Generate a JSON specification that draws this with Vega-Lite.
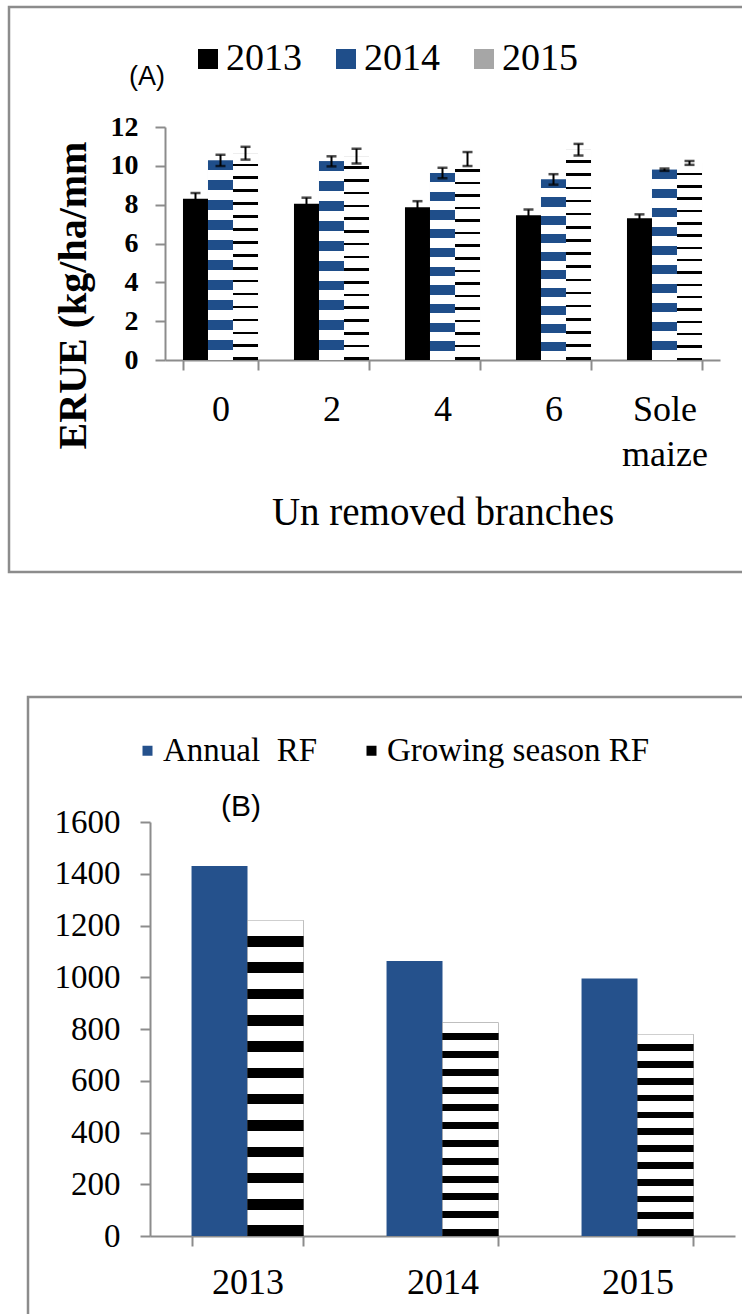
{
  "$schema": "https://vega.github.io/schema/vega-lite/v6.json",
  "padding": {"left": 7, "top": 5, "right": 0, "bottom": 0},
  "background": "white",
  "spacing": 121,
  "resolve": {"scale": {"color": "independent", "xOffset": "independent", "x": "independent", "y": "independent"}, "legend": {"color": "independent"}},
  "config": {
    "view": {"stroke": "#8c8c8c", "strokeWidth": 2.5, "fill": "white"},
    "font": "Liberation Serif",
    "axis": {"domainColor": "#8c8c8c", "domainWidth": 2, "tickColor": "#8c8c8c", "tickWidth": 2, "tickSize": 10, "labelColor": "black", "titleColor": "black", "grid": false, "labelFont": "Liberation Serif", "titleFont": "Liberation Serif"},
    "legend": {"labelColor": "black", "labelFont": "Liberation Serif"},
    "title": {"color": "black", "fontWeight": "normal"}
  },
  "vconcat": [
    {
      "width": 736,
      "height": 565,
      "title": {"text": "(A)", "font": "Liberation Sans", "fontSize": 27, "fontWeight": "normal", "anchor": "start", "frame": "group", "align": "center", "baseline": "middle", "offset": 0, "dx": 138, "dy": 97},
      "data": {"values": [
        {"branches": "0", "year": "2013", "erue": 8.3, "lo": 8.0, "hi": 8.6},
        {"branches": "0", "year": "2014", "erue": 10.28, "lo": 9.99, "hi": 10.57},
        {"branches": "0", "year": "2015", "erue": 10.65, "lo": 10.32, "hi": 10.98},
        {"branches": "2", "year": "2013", "erue": 8.05, "lo": 7.74, "hi": 8.36},
        {"branches": "2", "year": "2014", "erue": 10.23, "lo": 9.97, "hi": 10.49},
        {"branches": "2", "year": "2015", "erue": 10.5, "lo": 10.12, "hi": 10.88},
        {"branches": "4", "year": "2013", "erue": 7.87, "lo": 7.56, "hi": 8.18},
        {"branches": "4", "year": "2014", "erue": 9.63, "lo": 9.36, "hi": 9.9},
        {"branches": "4", "year": "2015", "erue": 10.35, "lo": 9.99, "hi": 10.71},
        {"branches": "6", "year": "2013", "erue": 7.45, "lo": 7.15, "hi": 7.75},
        {"branches": "6", "year": "2014", "erue": 9.3, "lo": 9.03, "hi": 9.57},
        {"branches": "6", "year": "2015", "erue": 10.83, "lo": 10.53, "hi": 11.13},
        {"branches": "Sole maize", "year": "2013", "erue": 7.3, "lo": 7.1, "hi": 7.5},
        {"branches": "Sole maize", "year": "2014", "erue": 9.8, "lo": 9.74, "hi": 9.86},
        {"branches": "Sole maize", "year": "2015", "erue": 10.15, "lo": 10.05, "hi": 10.25}
      ]},
      "encoding": {
        "x": {"field": "branches", "type": "nominal", "sort": ["0", "2", "4", "6", "Sole maize"],
          "scale": {"range": [156, 711], "paddingInner": 0.324, "paddingOuter": 0.162},
          "axis": {"offset": -212, "tickBand": "extent", "labelAngle": 0, "labelFont": "Liberation Serif", "labelFontSize": 36, "labelPadding": 22, "labelLineHeight": 45,
            "labelExpr": "datum.value == 'Sole maize' ? ['Sole', 'maize'] : datum.label",
            "title": "Un removed branches", "titleFont": "Liberation Serif", "titleFontSize": 39, "titleFontWeight": "normal", "titleY": 164, "titleBaseline": "alphabetic"}},
        "xOffset": {"field": "year", "type": "nominal", "scale": {"domain": ["2013", "2014", "2015"], "paddingInner": 0, "paddingOuter": 0}}
      },
      "layer": [
        {
          "mark": {"type": "bar"},
          "encoding": {
            "y": {"field": "erue", "type": "quantitative", "title": "ERUE (kg/ha/mm",
              "scale": {"domain": [0, 12], "range": [353, 120], "nice": false},
              "axis": {"offset": -156, "values": [0, 2, 4, 6, 8, 10, 12], "labelFont": "Liberation Serif", "labelFontSize": 28, "labelFontWeight": "bold", "labelPadding": 17,
                "titleFont": "Liberation Serif", "titleFontSize": 40, "titleFontWeight": "bold", "titleAngle": 270, "titleX": -92, "titleY": 288, "titleAlign": "center", "titleBaseline": "middle"}},
            "color": {"field": "year", "type": "nominal",
              "scale": {"domain": ["2013", "2014", "2015"], "range": ["#000000", "#1F4E8A", "#a6a6a6"]},
              "legend": {"orient": "none", "legendX": 180, "legendY": 33, "direction": "horizontal", "title": null, "symbolType": "square", "symbolSize": 400, "symbolStrokeWidth": 0, "labelFont": "Liberation Serif", "labelFontSize": 38, "labelOffset": -1, "columnPadding": 25, "padding": 0, "labelLimit": 400}}
          }
        },
        {
          "transform": [{"filter": "datum.year == '2014'"}],
          "mark": {"type": "bar", "fill": {"gradient": "linear", "x1": 0, "y1": 0, "x2": 0, "y2": 1, "stops": [
            {"offset": 0, "color": "#1F4E8A"}, {"offset": 0.05, "color": "#1F4E8A"}, {"offset": 0.05, "color": "#ffffff"}, {"offset": 0.1, "color": "#ffffff"},
            {"offset": 0.1, "color": "#1F4E8A"}, {"offset": 0.15, "color": "#1F4E8A"}, {"offset": 0.15, "color": "#ffffff"}, {"offset": 0.2, "color": "#ffffff"},
            {"offset": 0.2, "color": "#1F4E8A"}, {"offset": 0.25, "color": "#1F4E8A"}, {"offset": 0.25, "color": "#ffffff"}, {"offset": 0.3, "color": "#ffffff"},
            {"offset": 0.3, "color": "#1F4E8A"}, {"offset": 0.35, "color": "#1F4E8A"}, {"offset": 0.35, "color": "#ffffff"}, {"offset": 0.4, "color": "#ffffff"},
            {"offset": 0.4, "color": "#1F4E8A"}, {"offset": 0.45, "color": "#1F4E8A"}, {"offset": 0.45, "color": "#ffffff"}, {"offset": 0.5, "color": "#ffffff"},
            {"offset": 0.5, "color": "#1F4E8A"}, {"offset": 0.55, "color": "#1F4E8A"}, {"offset": 0.55, "color": "#ffffff"}, {"offset": 0.6, "color": "#ffffff"},
            {"offset": 0.6, "color": "#1F4E8A"}, {"offset": 0.65, "color": "#1F4E8A"}, {"offset": 0.65, "color": "#ffffff"}, {"offset": 0.7, "color": "#ffffff"},
            {"offset": 0.7, "color": "#1F4E8A"}, {"offset": 0.75, "color": "#1F4E8A"}, {"offset": 0.75, "color": "#ffffff"}, {"offset": 0.8, "color": "#ffffff"},
            {"offset": 0.8, "color": "#1F4E8A"}, {"offset": 0.85, "color": "#1F4E8A"}, {"offset": 0.85, "color": "#ffffff"}, {"offset": 0.9, "color": "#ffffff"},
            {"offset": 0.9, "color": "#1F4E8A"}, {"offset": 0.95, "color": "#1F4E8A"}, {"offset": 0.95, "color": "#ffffff"}, {"offset": 1, "color": "#ffffff"}
          ]}},
          "encoding": {"y": {"field": "erue", "type": "quantitative", "title": "ERUE (kg/ha/mm"}}
        },
        {
          "transform": [{"filter": "datum.year == '2015'"}],
          "mark": {"type": "bar", "fill": {"gradient": "linear", "x1": 0, "y1": 0, "x2": 0, "y2": 1, "stops": [
            {"offset": 0, "color": "#ffffff"}, {"offset": 0.05, "color": "#ffffff"}, {"offset": 0.05, "color": "#000000"}, {"offset": 0.0625, "color": "#000000"},
            {"offset": 0.0625, "color": "#ffffff"}, {"offset": 0.1125, "color": "#ffffff"}, {"offset": 0.1125, "color": "#000000"}, {"offset": 0.125, "color": "#000000"},
            {"offset": 0.125, "color": "#ffffff"}, {"offset": 0.175, "color": "#ffffff"}, {"offset": 0.175, "color": "#000000"}, {"offset": 0.1875, "color": "#000000"},
            {"offset": 0.1875, "color": "#ffffff"}, {"offset": 0.2375, "color": "#ffffff"}, {"offset": 0.2375, "color": "#000000"}, {"offset": 0.25, "color": "#000000"},
            {"offset": 0.25, "color": "#ffffff"}, {"offset": 0.3, "color": "#ffffff"}, {"offset": 0.3, "color": "#000000"}, {"offset": 0.3125, "color": "#000000"},
            {"offset": 0.3125, "color": "#ffffff"}, {"offset": 0.3625, "color": "#ffffff"}, {"offset": 0.3625, "color": "#000000"}, {"offset": 0.375, "color": "#000000"},
            {"offset": 0.375, "color": "#ffffff"}, {"offset": 0.425, "color": "#ffffff"}, {"offset": 0.425, "color": "#000000"}, {"offset": 0.4375, "color": "#000000"},
            {"offset": 0.4375, "color": "#ffffff"}, {"offset": 0.4875, "color": "#ffffff"}, {"offset": 0.4875, "color": "#000000"}, {"offset": 0.5, "color": "#000000"},
            {"offset": 0.5, "color": "#ffffff"}, {"offset": 0.55, "color": "#ffffff"}, {"offset": 0.55, "color": "#000000"}, {"offset": 0.5625, "color": "#000000"},
            {"offset": 0.5625, "color": "#ffffff"}, {"offset": 0.6125, "color": "#ffffff"}, {"offset": 0.6125, "color": "#000000"}, {"offset": 0.625, "color": "#000000"},
            {"offset": 0.625, "color": "#ffffff"}, {"offset": 0.675, "color": "#ffffff"}, {"offset": 0.675, "color": "#000000"}, {"offset": 0.6875, "color": "#000000"},
            {"offset": 0.6875, "color": "#ffffff"}, {"offset": 0.7375, "color": "#ffffff"}, {"offset": 0.7375, "color": "#000000"}, {"offset": 0.75, "color": "#000000"},
            {"offset": 0.75, "color": "#ffffff"}, {"offset": 0.8, "color": "#ffffff"}, {"offset": 0.8, "color": "#000000"}, {"offset": 0.8125, "color": "#000000"},
            {"offset": 0.8125, "color": "#ffffff"}, {"offset": 0.8625, "color": "#ffffff"}, {"offset": 0.8625, "color": "#000000"}, {"offset": 0.875, "color": "#000000"},
            {"offset": 0.875, "color": "#ffffff"}, {"offset": 0.925, "color": "#ffffff"}, {"offset": 0.925, "color": "#000000"}, {"offset": 0.9375, "color": "#000000"},
            {"offset": 0.9375, "color": "#ffffff"}, {"offset": 0.9875, "color": "#ffffff"}, {"offset": 0.9875, "color": "#000000"}, {"offset": 1, "color": "#000000"}
          ]}},
          "encoding": {"y": {"field": "erue", "type": "quantitative", "title": "ERUE (kg/ha/mm"}}
        },
        {
          "mark": {"type": "rule", "color": "black", "strokeWidth": 2},
          "encoding": {"y": {"field": "lo", "type": "quantitative", "title": "ERUE (kg/ha/mm"}, "y2": {"field": "hi"}}
        },
        {
          "mark": {"type": "tick", "color": "black", "size": 10, "thickness": 2.5},
          "encoding": {"y": {"field": "hi", "type": "quantitative", "title": "ERUE (kg/ha/mm"}}
        },
        {
          "mark": {"type": "tick", "color": "black", "size": 10, "thickness": 2.5},
          "encoding": {"y": {"field": "lo", "type": "quantitative", "title": "ERUE (kg/ha/mm"}}
        }
      ]
    },
    {
      "spacing": 16,
      "resolve": {"scale": {"color": "independent", "xOffset": "independent", "x": "independent", "y": "independent"}, "legend": {"color": "independent"}},
      "hconcat": [
        {"width": 1, "height": 1, "data": {"values": []}, "mark": {"type": "point", "opacity": 0}, "view": {"stroke": null, "fill": null}},
        {
          "width": 725,
          "height": 623,
          "title": {"text": "(B)", "font": "Liberation Sans", "fontSize": 30, "fontWeight": "normal", "anchor": "start", "frame": "group", "align": "center", "baseline": "middle", "offset": 0, "dx": 213, "dy": 140},
          "data": {"values": [
            {"year": "2013", "type": "Annual RF", "rf": 1430},
            {"year": "2013", "type": "Growing season RF", "rf": 1220},
            {"year": "2014", "type": "Annual RF", "rf": 1063},
            {"year": "2014", "type": "Growing season RF", "rf": 825},
            {"year": "2015", "type": "Annual RF", "rf": 995},
            {"year": "2015", "type": "Growing season RF", "rf": 780}
          ]},
          "encoding": {
            "x": {"field": "year", "type": "nominal",
              "scale": {"range": [122, 707], "paddingInner": 0.426, "paddingOuter": 0.213},
              "axis": {"offset": -84, "tickBand": "extent", "labelAngle": 0, "labelFont": "Liberation Serif", "labelFontSize": 36, "labelPadding": 19, "title": null}},
            "xOffset": {"field": "type", "type": "nominal", "scale": {"domain": ["Annual RF", "Growing season RF"], "paddingInner": 0, "paddingOuter": 0}}
          },
          "layer": [
            {
              "mark": {"type": "bar"},
              "encoding": {
                "y": {"field": "rf", "type": "quantitative", "title": null,
                  "scale": {"domain": [0, 1600], "range": [539, 125], "nice": false},
                  "axis": {"offset": -122, "values": [0, 200, 400, 600, 800, 1000, 1200, 1400, 1600], "format": "d", "labelFont": "Liberation Serif", "labelFontSize": 33, "labelPadding": 20, "title": null}},
                "color": {"field": "type", "type": "nominal",
                  "scale": {"domain": ["Annual RF", "Growing season RF"], "range": ["#25518C", "#000000"]},
                  "legend": {"orient": "none", "legendX": 103, "legendY": 37, "direction": "horizontal", "title": null, "symbolType": "square", "symbolSize": 100, "symbolStrokeWidth": 0, "labelFont": "Liberation Serif", "labelFontSize": 33, "labelOffset": -1, "columnPadding": 37, "padding": 0, "labelLimit": 500,
                    "labelExpr": "datum.label == 'Annual RF' ? 'Annual\u00a0\u00a0RF' : datum.label"}}
              }
            },
            {
              "transform": [{"filter": "datum.type == 'Growing season RF'"}],
              "mark": {"type": "bar", "fill": {"gradient": "linear", "x1": 0, "y1": 0, "x2": 0, "y2": 1, "stops": [
                {"offset": 0, "color": "#ffffff"}, {"offset": 0.05, "color": "#ffffff"}, {"offset": 0.05, "color": "#000000"}, {"offset": 0.0833, "color": "#000000"},
                {"offset": 0.0833, "color": "#ffffff"}, {"offset": 0.1333, "color": "#ffffff"}, {"offset": 0.1333, "color": "#000000"}, {"offset": 0.1667, "color": "#000000"},
                {"offset": 0.1667, "color": "#ffffff"}, {"offset": 0.2167, "color": "#ffffff"}, {"offset": 0.2167, "color": "#000000"}, {"offset": 0.25, "color": "#000000"},
                {"offset": 0.25, "color": "#ffffff"}, {"offset": 0.3, "color": "#ffffff"}, {"offset": 0.3, "color": "#000000"}, {"offset": 0.3333, "color": "#000000"},
                {"offset": 0.3333, "color": "#ffffff"}, {"offset": 0.3833, "color": "#ffffff"}, {"offset": 0.3833, "color": "#000000"}, {"offset": 0.4167, "color": "#000000"},
                {"offset": 0.4167, "color": "#ffffff"}, {"offset": 0.4667, "color": "#ffffff"}, {"offset": 0.4667, "color": "#000000"}, {"offset": 0.5, "color": "#000000"},
                {"offset": 0.5, "color": "#ffffff"}, {"offset": 0.55, "color": "#ffffff"}, {"offset": 0.55, "color": "#000000"}, {"offset": 0.5833, "color": "#000000"},
                {"offset": 0.5833, "color": "#ffffff"}, {"offset": 0.6333, "color": "#ffffff"}, {"offset": 0.6333, "color": "#000000"}, {"offset": 0.6667, "color": "#000000"},
                {"offset": 0.6667, "color": "#ffffff"}, {"offset": 0.7167, "color": "#ffffff"}, {"offset": 0.7167, "color": "#000000"}, {"offset": 0.75, "color": "#000000"},
                {"offset": 0.75, "color": "#ffffff"}, {"offset": 0.8, "color": "#ffffff"}, {"offset": 0.8, "color": "#000000"}, {"offset": 0.8333, "color": "#000000"},
                {"offset": 0.8333, "color": "#ffffff"}, {"offset": 0.8833, "color": "#ffffff"}, {"offset": 0.8833, "color": "#000000"}, {"offset": 0.9167, "color": "#000000"},
                {"offset": 0.9167, "color": "#ffffff"}, {"offset": 0.9667, "color": "#ffffff"}, {"offset": 0.9667, "color": "#000000"}, {"offset": 1, "color": "#000000"}
              ]}},
              "encoding": {"y": {"field": "rf", "type": "quantitative", "title": null}}
            }
          ]
        }
      ]
    }
  ]
}
